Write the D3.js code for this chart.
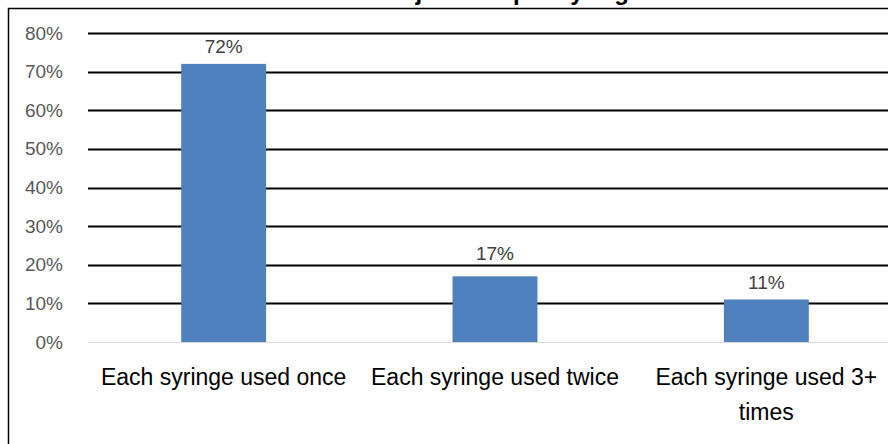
<!DOCTYPE html>
<html>
<head>
<meta charset="utf-8">
<script src="https://cdn.jsdelivr.net/npm/d3@7"></script>
<style>
  html, body { margin: 0; padding: 0; background: #fff; overflow: hidden; }
  svg { display: block; font-family: "Liberation Sans", Arial, sans-serif; }
</style>
</head>
<body>
<svg id="chart" width="888" height="444"></svg>
<script>
// chart data
const categories = ['Each syringe used once', 'Each syringe used twice', 'Each syringe used 3+ times'];
const values = [0.72, 0.17, 0.11];
const yTicks = [0, 0.1, 0.2, 0.3, 0.4, 0.5, 0.6, 0.7, 0.8];
const titleText = 'Number of injections per syringe';

const margin = {top: 33, left: 88, right: -14, bottom: 102};
const svgWidth = 888;
const svgHeight = 444;
const width = svgWidth - margin.left - margin.right;
const height = svgHeight - margin.top - margin.bottom;

const svg = d3.select('#chart');

// outer chart border (runs off the right and bottom edges)
svg.append('rect')
    .attr('x', 8.5)
    .attr('y', 8.5)
    .attr('width', 920)
    .attr('height', 460)
    .attr('fill', 'none')
    .attr('stroke', '#000')
    .attr('stroke-width', 1.5);

// title, cut off at the top like the original
svg.append('text')
    .attr('x', 455)
    .attr('y', -0.5)
    .attr('text-anchor', 'middle')
    .attr('font-size', 24)
    .attr('font-weight', 'bold')
    .attr('fill', '#000')
    .text(titleText);

const g = svg.append('g').attr('transform', `translate(${margin.left},${margin.top})`);

const x = d3.scaleBand()
    .domain(categories)
    .range([0, width])
    .paddingInner(0.687)
    .paddingOuter(0.3435);

const y = d3.scaleLinear()
    .domain([0, 0.8])
    .range([height, 0]);

// gridlines
g.append('g')
    .selectAll('line')
    .data(yTicks)
    .join('line')
    .attr('x1', 0)
    .attr('x2', width)
    .attr('y1', d => Math.round(y(d)) + 0.5)
    .attr('y2', d => Math.round(y(d)) + 0.5)
    .attr('stroke', d => d === 0 ? '#d9d9d9' : '#000')
    .attr('stroke-width', d => d === 0 ? 1 : 2);

// y axis labels
const yAxis = g.append('g')
    .call(d3.axisLeft(y).tickValues(yTicks).tickFormat(d3.format('.0%')).tickSize(0).tickPadding(25));
yAxis.select('.domain').remove();
yAxis.selectAll('text')
    .attr('font-size', 19)
    .attr('font-family', 'inherit')
    .attr('fill', '#595959');

// bars
g.append('g')
    .selectAll('rect')
    .data(values)
    .join('rect')
    .attr('x', (d, i) => x(categories[i]))
    .attr('y', d => y(d))
    .attr('width', x.bandwidth())
    .attr('height', d => height - y(d))
    .attr('fill', '#4f81bd');

// value labels; lift a label clear of a gridline it would sit on
function labelY(d) {
  let base = y(d) - 11;
  yTicks.forEach(t => {
    if (t > 0 && Math.abs(base - y(t)) < 5) base = y(t) - 5;
  });
  return base;
}

g.append('g')
    .selectAll('text')
    .data(values)
    .join('text')
    .attr('x', (d, i) => x(categories[i]) + x.bandwidth() / 2)
    .attr('y', labelY)
    .attr('text-anchor', 'middle')
    .attr('font-size', 19)
    .attr('fill', '#404040')
    .text(d3.format('.0%'));

// x axis labels, wrapped like the original
const xAxis = g.append('g')
    .attr('transform', `translate(0,${height})`)
    .call(d3.axisBottom(x).tickSize(0).tickPadding(0));
xAxis.select('.domain').remove();
xAxis.selectAll('text')
    .attr('font-size', 23)
    .attr('font-family', 'inherit')
    .attr('fill', '#000')
    .attr('dy', null)
    .attr('y', 43)
    .each(function(d) {
      const t = d3.select(this);
      const words = d.split(' ');
      t.text(null);
      if (d.length > 23) {
        t.append('tspan').attr('x', 0).text(words.slice(0, -1).join(' '));
        t.append('tspan').attr('x', 0).attr('dy', 35).text(words[words.length - 1]);
      } else {
        t.append('tspan').attr('x', 0).text(d);
      }
    });
</script>
</body>
</html>
